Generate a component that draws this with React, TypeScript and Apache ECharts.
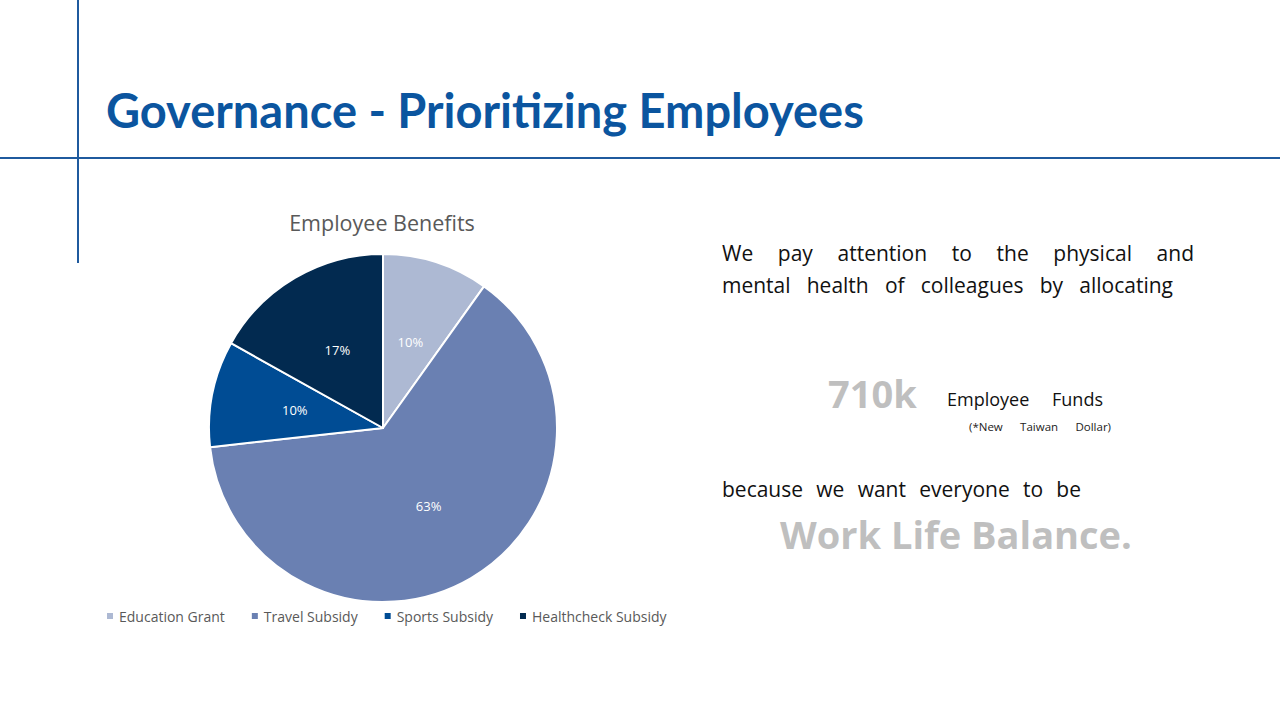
import React, { useEffect, useRef } from "react";
import * as echarts from "echarts";

const categories = ["Education Grant", "Travel Subsidy", "Sports Subsidy", "Healthcheck Subsidy"];
const values = [70, 450, 70, 120]; // thousand NTD (total 710k)
const sliceColors = ["#ADB9D3", "#6A80B2", "#004C94", "#022A50"];

const line1 = "We pay attention to the physical and";
const line2 = "mental health of colleagues by allocating";
const line3 = "because we want everyone to be";
const fundText = "Employee Funds";
const noteText = "(*New Taiwan Dollar)";

export default function App() {
  const ref = useRef<HTMLDivElement>(null);
  useEffect(() => {
    if (!ref.current) return;
    const chart = echarts.init(ref.current, null, { renderer: "svg" });
    const bodyFont = "Open Sans";
    const ctx = document.createElement("canvas").getContext("2d")!;
    const fontStr = (size: number, weight: string, family: string) => `${weight} ${size}px "${family}"`;
    // text placed by baseline (top-aligned; baseline offset ~k em)
    const txt = (text: string, x: number, baseline: number, size: number, fill: string, weight = "normal", family = bodyFont, k = 0.93) => ({
      type: "text", x, y: baseline - k * size,
      style: { text, fill, font: fontStr(size, weight, family), verticalAlign: "top", align: "left" },
    });
    // spread words evenly between x0 and x1 (mimics the spaced / justified lines)
    const spread = (line: string, x0: number, x1: number, baseline: number, size: number, fill: string) => {
      ctx.font = fontStr(size, "normal", bodyFont);
      const ws = line.split(" ");
      const widths = ws.map((w) => ctx.measureText(w).width);
      const total = widths.reduce((a, b) => a + b, 0);
      const gap = ws.length > 1 ? (x1 - x0 - total) / (ws.length - 1) : 0;
      let x = x0;
      return ws.map((w, i) => {
        const el = txt(w, x, baseline, size, fill);
        x += widths[i] + gap;
        return el;
      });
    };
    const graphics: any[] = [
      { type: "line", shape: { x1: 78, y1: 0, x2: 78, y2: 263 }, style: { stroke: "#1F5A9E", lineWidth: 2 } },
      { type: "line", shape: { x1: 0, y1: 158, x2: 1280, y2: 158 }, style: { stroke: "#1F5A9E", lineWidth: 2 } },
      txt("Governance - Prioritizing Employees", 106, 127, 47, "#0B559F", "bold", "Lato", 0.855),
      ...spread(line1, 722, 1194, 262, 21, "#111"),
      ...spread(line2, 722, 1173, 294, 21, "#111"),
      txt("710k", 828, 409, 38, "#BFBFBF", "bold"),
      ...spread(fundText, 947, 1103, 407, 18, "#111"),
      ...spread(noteText, 969, 1111, 431, 11.5, "#222"),
      ...spread(line3, 722, 1081, 498, 21, "#111"),
      txt("Work Life Balance.", 780, 550, 38, "#BFBFBF", "bold"),
    ];
    chart.setOption({
      animation: false,
      title: {
        text: "Employee Benefits",
        left: 377, top: 206, textAlign: "center",
        textStyle: { fontFamily: bodyFont, fontWeight: "normal", fontSize: 21.5, color: "#595959" },
      },
      legend: {
        data: categories,
        left: 100, top: 604,
        icon: "rect", itemWidth: 8, itemHeight: 8, itemGap: 25,
        textStyle: { fontFamily: bodyFont, fontSize: 14, color: "#595959" },
      },
      graphic: graphics,
      series: [
        {
          type: "pie",
          center: [383, 428],
          radius: [0, 174],
          startAngle: 90,
          clockwise: true,
          data: categories.map((c, i) => ({ name: c, value: values[i], itemStyle: { color: sliceColors[i] } })),
          itemStyle: { borderColor: "#fff", borderWidth: 2 },
          label: {
            show: true, position: "inside",
            formatter: (p: any) => Math.round(p.percent) + "%",
            color: "#fff", fontFamily: bodyFont, fontSize: 13,
          },
          labelLine: { show: false },
          emphasis: { disabled: true },
        },
      ],
    });
    return () => chart.dispose();
  }, []);
  return <div ref={ref} style={{ position: "absolute", left: 0, top: 0, width: 1280, height: 720, background: "#fff" }} />;
}
